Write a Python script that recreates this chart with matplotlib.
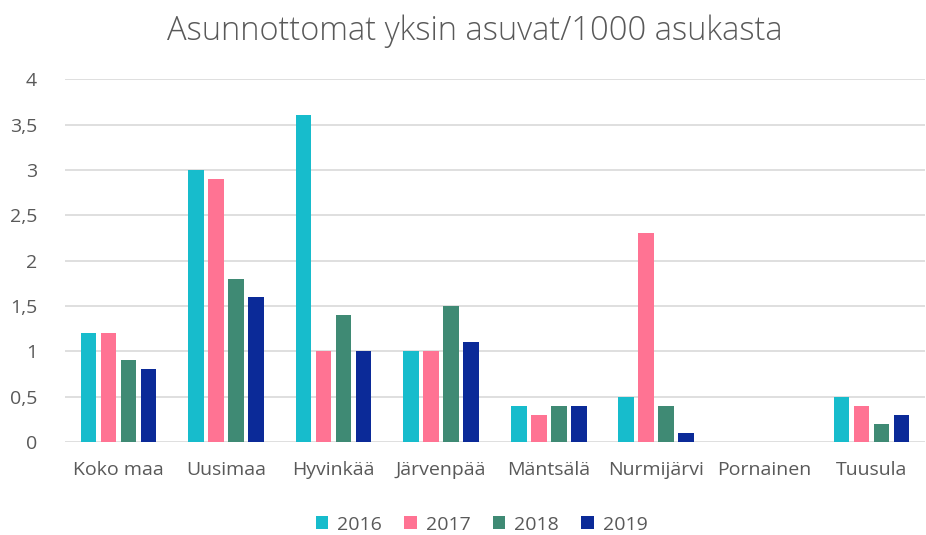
import numpy as np
import matplotlib
matplotlib.use('Agg')
import matplotlib.pyplot as plt

# Asunnottomat yksin asuvat per 1000 asukasta, kunnittain
kunnat = ['Koko maa', 'Uusimaa', 'Hyvinkää', 'Järvenpää', 'Mäntsälä',
          'Nurmijärvi', 'Pornainen', 'Tuusula']
vuodet = ['2016', '2017', '2018', '2019']
v2016 = [1.2, 3.0, 3.6, 1.0, 0.4, 0.5, 0.0, 0.5]
v2017 = [1.2, 2.9, 1.0, 1.0, 0.3, 2.3, 0.0, 0.4]
v2018 = [0.9, 1.8, 1.4, 1.5, 0.4, 0.4, 0.0, 0.2]
v2019 = [0.8, 1.6, 1.0, 1.1, 0.4, 0.1, 0.0, 0.3]
y_ticks = [0, 0.5, 1, 1.5, 2, 2.5, 3, 3.5, 4]

colors = ['#17BCCC', '#FF7393', '#3F8A74', '#0B2A98']
text_col = '#595959'

plt.rcParams['font.family'] = ['Open Sans', 'DejaVu Sans']

fig = plt.figure(figsize=[9.26, 5.35], dpi=100)
ax = fig.add_axes([0.070, 0.174, 0.929, 0.678])

x = np.arange(len(kunnat))
step = 0.186
width = 0.145
for i, (vals, lab) in enumerate(zip([v2016, v2017, v2018, v2019], vuodet)):
    ax.bar(x + (i - 1.5) * step, vals, width, color=colors[i], label=lab, zorder=3)

ax.set_xlim(-0.5, len(kunnat) - 0.5)
ax.set_ylim(0, 4)
ax.set_yticks(y_ticks)
ax.set_yticklabels([('%g' % t).replace('.', ',') for t in y_ticks])
ax.set_xticks(x)
ax.set_xticklabels(kunnat)
ax.grid(axis='y', color='#D9D9D9', linewidth=1.2, zorder=0)
for s in ax.spines.values():
    s.set_visible(False)
ax.tick_params(axis='both', length=0, labelsize=14, labelcolor=text_col)
ax.tick_params(axis='x', pad=14)
ax.tick_params(axis='y', pad=20)

fig.suptitle('Asunnottomat yksin asuvat/1000 asukasta', x=0.513, y=0.972,
             fontsize=23.5, color=text_col, fontweight='light')

fig.legend(loc='lower center', bbox_to_anchor=(0.52, -0.03), ncol=4, frameon=False,
           fontsize=14, labelcolor=text_col, handlelength=0.65, handleheight=0.65,
           handletextpad=0.45, columnspacing=1.15)

fig.savefig('out.png', dpi=100)
